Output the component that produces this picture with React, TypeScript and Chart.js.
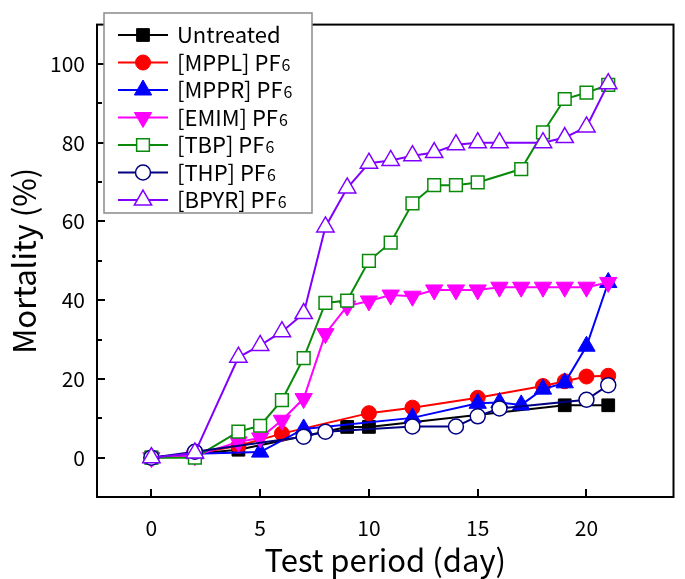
import React, { useEffect, useRef } from 'react';
import { Chart, registerables } from 'chart.js';

Chart.register(...registerables);

// ---- data ----
const xTickValues = [0, 5, 10, 15, 20];
const yTickValues = [0, 20, 40, 60, 80, 100];
const yMinorTickValues = [10, 30, 50, 70, 90];
const xTitle = 'Test period (day)';
const yTitle = 'Mortality (%)';

const seriesNames = ['Untreated', '[MPPL] PF6', '[MPPR] PF6', '[EMIM] PF6', '[TBP] PF6', '[THP] PF6', '[BPYR] PF6'];

const untreatedDays = [0, 2, 4, 9, 10, 19, 21];
const untreatedValues = [0, 1, 2, 7.8, 7.8, 13.3, 13.3];

const mpplDays = [0, 2, 4, 6, 10, 12, 15, 18, 19, 20, 21];
const mpplValues = [0, 1, 3, 6.1, 11.3, 12.7, 15.2, 18.2, 19.4, 20.6, 20.8];

const mpprDays = [0, 2, 5, 7, 12, 15, 16, 17, 18, 19, 20, 21];
const mpprValues = [0, 1, 1.4, 7.3, 10.1, 13.8, 14, 13.4, 17.4, 19, 28.3, 44.5];

const emimDays = [0, 2, 4, 5, 6, 7, 8, 9, 10, 11, 12, 13, 14, 15, 16, 17, 18, 19, 20, 21];
const emimValues = [0, 0.5, 4, 5, 9.5, 15, 31.5, 38.5, 39.8, 41.3, 41, 42.6, 42.6, 42.6, 43.3, 43.3, 43.3, 43.3, 43.3, 44.5];

const tbpDays = [0, 2, 4, 5, 6, 7, 8, 9, 10, 11, 12, 13, 14, 15, 17, 18, 19, 20, 21];
const tbpValues = [0, 0, 6.6, 8.1, 14.6, 25.3, 39.3, 39.9, 50, 54.6, 64.6, 69.2, 69.2, 69.9, 73.3, 82.6, 91.1, 92.7, 94.7];

const thpDays = [0, 2, 7, 8, 12, 14, 15, 16, 20, 21];
const thpValues = [0, 1.5, 5.3, 6.6, 7.9, 7.9, 10.5, 12.5, 14.7, 18.4];

const bpyrDays = [0, 2, 4, 5, 6, 7, 8, 9, 10, 11, 12, 13, 14, 15, 16, 18, 19, 20, 21];
const bpyrValues = [0, 1.2, 25.5, 28.5, 32, 36.6, 58.6, 68.5, 74.8, 75.5, 76.7, 77.5, 79.5, 80, 80, 80, 81.3, 84, 95];

// ---- styles ----
type Marker = { style: string; rotation: number; radius: number; fill: string; color: string; borderWidth: number };
const seriesColors = ['#000000', '#ff0000', '#0000ff', '#ff00ff', '#0a8a0a', '#000080', '#8000ff'];
const seriesMarkers: Marker[] = [
  { style: 'rect', rotation: 0, radius: 9, fill: '#000000', color: '#000000', borderWidth: 1 },
  { style: 'circle', rotation: 0, radius: 7.5, fill: '#ff0000', color: '#ff0000', borderWidth: 1 },
  { style: 'triangle', rotation: 0, radius: 10, fill: '#0000ff', color: '#0000ff', borderWidth: 1 },
  { style: 'triangle', rotation: 180, radius: 10, fill: '#ff00ff', color: '#ff00ff', borderWidth: 1 },
  { style: 'rect', rotation: 0, radius: 9, fill: '#ffffff', color: '#0a8a0a', borderWidth: 1.5 },
  { style: 'circle', rotation: 0, radius: 7.5, fill: '#ffffff', color: '#000080', borderWidth: 1.5 },
  { style: 'triangle', rotation: 0, radius: 10, fill: '#ffffff', color: '#8000ff', borderWidth: 1.5 },
];

const seriesDays = [untreatedDays, mpplDays, mpprDays, emimDays, tbpDays, thpDays, bpyrDays];
const seriesValues = [untreatedValues, mpplValues, mpprValues, emimValues, tbpValues, thpValues, bpyrValues];

const FONT = '"Noto Sans CJK JP", "Noto Sans", sans-serif';

function drawMarker(ctx: CanvasRenderingContext2D, m: Marker, x: number, y: number) {
  ctx.save();
  ctx.beginPath();
  const r = m.radius;
  if (m.style === 'circle') {
    ctx.arc(x, y, r, 0, Math.PI * 2);
  } else if (m.style === 'rect') {
    const s = Math.SQRT1_2 * r;
    ctx.rect(x - s, y - s, 2 * s, 2 * s);
  } else {
    let rad = (m.rotation * Math.PI) / 180;
    ctx.moveTo(x + Math.sin(rad) * r, y - Math.cos(rad) * r);
    rad += (2 * Math.PI) / 3;
    ctx.lineTo(x + Math.sin(rad) * r, y - Math.cos(rad) * r);
    rad += (2 * Math.PI) / 3;
    ctx.lineTo(x + Math.sin(rad) * r, y - Math.cos(rad) * r);
    ctx.closePath();
  }
  ctx.fillStyle = m.fill;
  ctx.fill();
  ctx.lineWidth = m.borderWidth;
  ctx.strokeStyle = m.color;
  ctx.stroke();
  ctx.restore();
}

const framePlugin = {
  id: 'frameTicks',
  afterDatasetsDraw(chart: any) {
    const { ctx, chartArea } = chart;
    const xs = chart.scales.x;
    const ys = chart.scales.y;
    ctx.save();
    ctx.strokeStyle = '#000';
    ctx.lineWidth = 2;
    ctx.strokeRect(chartArea.left, chartArea.top, chartArea.right - chartArea.left, chartArea.bottom - chartArea.top);
    ctx.beginPath();
    xTickValues.forEach((v) => {
      const px = Math.round(xs.getPixelForValue(v));
      ctx.moveTo(px, chartArea.bottom);
      ctx.lineTo(px, chartArea.bottom - 8);
    });
    yTickValues.forEach((v) => {
      const py = Math.round(ys.getPixelForValue(v));
      ctx.moveTo(chartArea.left, py);
      ctx.lineTo(chartArea.left + 8, py);
    });
    yMinorTickValues.forEach((v) => {
      const py = Math.round(ys.getPixelForValue(v));
      ctx.moveTo(chartArea.left, py);
      ctx.lineTo(chartArea.left + 5, py);
    });
    ctx.stroke();
    ctx.restore();
  },
  afterDraw(chart: any) {
    const { ctx } = chart;
    const left = 104, top = 13, right = 312, bottom = 213;
    ctx.save();
    ctx.fillStyle = '#fff';
    ctx.fillRect(left, top, right - left, bottom - top);
    ctx.strokeStyle = '#8a8a8a';
    ctx.lineWidth = 1.5;
    ctx.strokeRect(left, top, right - left, bottom - top);
    const rowH = 27.5;
    seriesNames.forEach((name, i) => {
      const cy = 35 + i * rowH;
      ctx.beginPath();
      ctx.strokeStyle = seriesColors[i];
      ctx.lineWidth = 2;
      ctx.moveTo(118, cy);
      ctx.lineTo(168, cy);
      ctx.stroke();
      drawMarker(ctx, seriesMarkers[i], 143, cy);
      ctx.fillStyle = '#000';
      ctx.textBaseline = 'alphabetic';
      ctx.textAlign = 'left';
      const m = name.match(/^(.*PF)(6)$/);
      const base = cy + 8;
      ctx.font = `22px ${FONT}`;
      if (m) {
        ctx.fillText(m[1], 177, base);
        const w = ctx.measureText(m[1]).width;
        ctx.font = `16px ${FONT}`;
        ctx.fillText(m[2], 177 + w + 1, base);
      } else {
        ctx.fillText(name, 177, base);
      }
    });
    ctx.restore();
  },
};

export default function App() {
  const ref = useRef<HTMLCanvasElement>(null);
  useEffect(() => {
    Chart.defaults.font.family = FONT;
    Chart.defaults.color = '#000';
    const datasets = seriesNames.map((name, i) => ({
      label: name,
      data: seriesDays[i].map((d, j) => ({ x: d, y: seriesValues[i][j] })),
      borderColor: seriesColors[i],
      backgroundColor: seriesMarkers[i].fill,
      borderWidth: 2,
      pointStyle: seriesMarkers[i].style,
      pointRotation: seriesMarkers[i].rotation,
      pointRadius: seriesMarkers[i].radius,
      pointBorderWidth: seriesMarkers[i].borderWidth,
      pointBorderColor: seriesMarkers[i].color,
      pointBackgroundColor: seriesMarkers[i].fill,
      tension: 0,
      fill: false,
      order: seriesNames.length - i,
    }));
    const chart = new Chart(ref.current!, {
      type: 'line',
      data: { datasets },
      plugins: [framePlugin],
      options: {
        animation: false,
        responsive: true,
        maintainAspectRatio: false,
        layout: { padding: { top: 3, right: 2, left: 0, bottom: 0 } },
        plugins: { legend: { display: false }, tooltip: { enabled: false } },
        scales: {
          x: {
            type: 'linear',
            min: -2.5,
            max: 24,
            afterBuildTicks: (s: any) => { s.ticks = xTickValues.map((v) => ({ value: v })); },
            afterFit: (s: any) => { s.height = 82; },
            grid: { display: false, drawTicks: false, tickLength: 0 },
            border: { display: false },
            ticks: { font: { size: 21 }, padding: 18, autoSkip: false, maxRotation: 0, color: '#000' },
            title: { display: true, text: xTitle, font: { size: 31 }, padding: { top: 0, bottom: 0 }, color: '#000' },
          },
          y: {
            type: 'linear',
            min: -10,
            max: 110,
            afterBuildTicks: (s: any) => { s.ticks = yTickValues.map((v) => ({ value: v })); },
            afterFit: (s: any) => { s.width = 97; },
            grid: { display: false, drawTicks: false, tickLength: 0 },
            border: { display: false },
            ticks: { font: { size: 21 }, padding: 12, autoSkip: false, color: '#000' },
            title: { display: true, text: yTitle, font: { size: 31 }, padding: { top: 6, bottom: 0 }, color: '#000' },
          },
        },
      },
    });
    return () => chart.destroy();
  }, []);
  return (
    <div style={{ position: 'absolute', left: 0, top: 0, width: 685, height: 579 }}>
      <canvas ref={ref} />
    </div>
  );
}
